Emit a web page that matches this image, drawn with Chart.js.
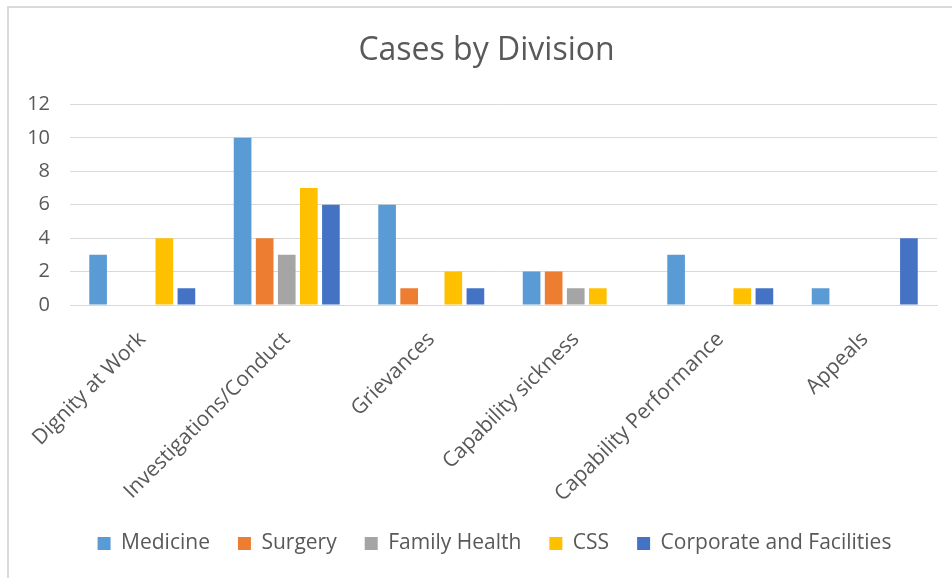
<!DOCTYPE html>
<html>
<head>
<meta charset="utf-8">
<title>Cases by Division</title>
<script src="https://cdn.jsdelivr.net/npm/chart.js@4.4.1/dist/chart.umd.min.js"></script>
<style>
    html, body { margin: 0; padding: 0; background: #ffffff; }
    #wrap { position: relative; width: 952px; height: 578px; overflow: hidden; }
    #frame {
        position: absolute; left: 7px; top: 6px; width: 1000px; height: 640px;
        border-top: 2px solid #d9d9d9; border-left: 2px solid #d9d9d9;
    }
    #chart { position: absolute; left: 0; top: 0; }
</style>
</head>
<body>
<div id="wrap">
    <div id="frame"></div>
    <canvas id="chart" width="952" height="578"></canvas>
</div>
<script>
const categories = [
    'Dignity at Work',
    'Investigations/Conduct',
    'Grievances',
    'Capability sickness',
    'Capability Performance',
    'Appeals'
];

const medicine = [3, 10, 6, 2, 3, 1];
const surgery = [0, 4, 1, 2, 0, 0];
const familyHealth = [0, 3, 0, 1, 0, 0];
const css = [4, 7, 2, 1, 1, 0];
const corporate = [1, 6, 1, 0, 1, 4];

const yTicks = [0, 2, 4, 6, 8, 10, 12];

const textColor = '#595959';
const gridColor = '#d9d9d9';
const fontFamily = '"Open Sans", "Noto Sans", sans-serif';

function series(label, data, color) {
    return {
        label: label,
        data: data,
        backgroundColor: color,
        borderWidth: 0,
        categoryPercentage: 0.764,
        barPercentage: 0.8,
    };
}

// the chart frame runs off to the right, so title and legend sit a bit right of the plot centre
const centreShift = {
    id: 'centreShift',
    afterLayout(chart) {
        if (chart.titleBlock) {
            chart.titleBlock.left += 14;
            chart.titleBlock.right += 14;
        }
        if (chart.legend) {
            chart.legend.left += 22;
            chart.legend.right += 22;
        }
    }
};

const ctx = document.getElementById('chart').getContext('2d');

new Chart(ctx, {
    type: 'bar',
    data: {
        labels: categories,
        datasets: [
            series('Medicine', medicine, '#5b9bd5'),
            series('Surgery', surgery, '#ed7d31'),
            series('Family Health', familyHealth, '#a5a5a5'),
            series('CSS', css, '#ffc000'),
            series('Corporate and Facilities', corporate, '#4472c4'),
        ]
    },
    plugins: [centreShift],
    options: {
        responsive: false,
        animation: false,
        layout: {
            padding: { top: 7, left: 8, right: 15, bottom: 14 }
        },
        plugins: {
            title: {
                display: true,
                text: 'Cases by Division',
                color: textColor,
                font: { family: fontFamily, size: 32, weight: 'normal' },
                padding: { top: 25, bottom: 34 },
            },
            legend: {
                position: 'bottom',
                labels: {
                    color: textColor,
                    font: { family: fontFamily, size: 21 },
                    boxWidth: 13,
                    boxHeight: 13,
                    padding: 28,
                },
            },
            tooltip: { enabled: false },
        },
        scales: {
            x: {
                grid: { display: false, drawTicks: false },
                border: { color: gridColor, width: 1 },
                ticks: {
                    color: textColor,
                    font: { family: fontFamily, size: 21 },
                    minRotation: 45,
                    maxRotation: 45,
                    autoSkip: false,
                    padding: 22,
                },
                afterFit: function (scale) {
                    scale.height = 200;
                },
            },
            y: {
                min: 0,
                max: 12,
                afterBuildTicks: function (scale) {
                    scale.ticks = yTicks.map(v => ({ value: v }));
                },
                grid: { color: gridColor, lineWidth: 1, drawTicks: false },
                border: { display: false },
                ticks: {
                    color: textColor,
                    font: { family: fontFamily, size: 20 },
                    padding: 20,
                },
                afterFit: function (scale) {
                    scale.width = 62;
                },
            },
        },
    }
});
</script>
</body>
</html>
